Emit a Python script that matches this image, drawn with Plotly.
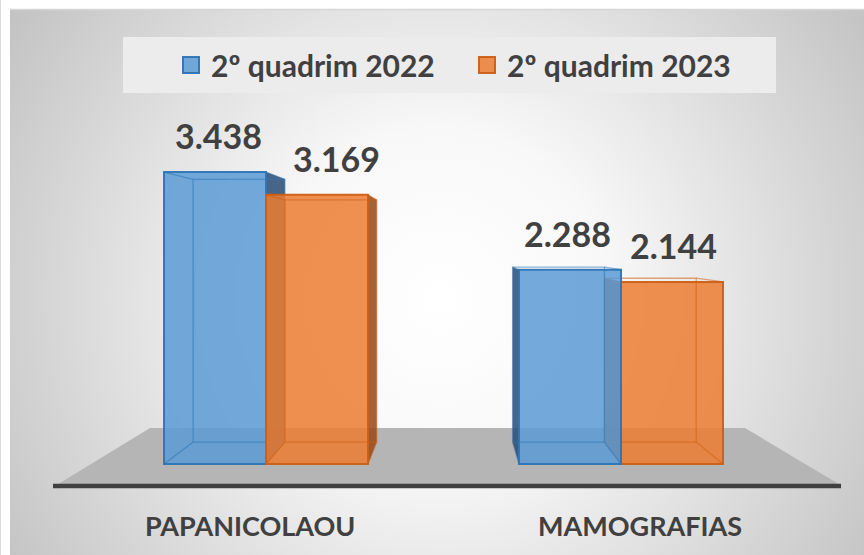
import base64
import plotly.graph_objects as go

# ---------------- data ----------------
categories = ["PAPANICOLAOU", "MAMOGRAFIAS"]
series_names = ["2º quadrim 2022", "2º quadrim 2023"]
values_2022 = [3438, 2288]
values_2023 = [3169, 2144]

# ---------------- style ----------------
W, H = 864, 555
X_RANGE = [-0.7493, 1.6845]
Y_RANGE = [-1071.5, 5463.4]
BAR_W = 0.2873
VP = (0.532, 2578.0)       # vanishing point (data coords) for the 3D look
DEPTH = 0.9                # back face scale toward vanishing point
FRONT = ["rgba(91,155,213,0.85)", "rgba(237,125,49,0.85)"]
SIDE = ["rgba(40,75,115,0.85)", "rgba(150,72,20,0.85)"]
EDGE = ["rgba(46,117,182,0.95)", "rgba(205,95,20,0.95)"]
INNER = ["rgba(46,117,182,0.55)", "rgba(205,95,20,0.55)"]
LABEL_XSHIFT = [[3, -3], [19, 1]]
CAT_XSHIFT = [-16, 19]
TXT = "#404040"
FONT = "Lato"


def px(x):
    return x / W


def py(y):
    return 1 - y / H


def back(x, y):
    return VP[0] + DEPTH * (x - VP[0]), VP[1] + DEPTH * (y - VP[1])


def fmt(v):
    return f"{v:,}".replace(",", ".")


fig = go.Figure()
series_values = [values_2022, values_2023]

z = 1
for gi, cat in enumerate(categories):
    bars = []
    for si in range(2):
        x0 = gi + (si - 1) * BAR_W
        x1 = x0 + BAR_W
        bars.append((si, x0, x1, series_values[si][gi]))
    # draw the bar farther from the vanishing point first
    bars.sort(key=lambda b: -abs((b[1] + b[2]) / 2 - VP[0]))
    for si, x0, x1, v in bars:
        cx = (x0 + x1) / 2
        xs = x1 if cx < VP[0] else x0  # visible side face
        bx0, by0 = back(xs, 0)
        bx1, by1 = back(xs, v)
        fig.add_trace(go.Scatter(
            x=[xs, xs, bx1, bx0, xs], y=[0, v, by1, by0, 0],
            fill="toself", fillcolor=SIDE[si], mode="lines",
            line=dict(width=0), hoverinfo="skip", showlegend=False, zorder=z))
        fig.add_trace(go.Bar(
            x=[cx], y=[v], width=[BAR_W],
            marker=dict(color=FRONT[si], line=dict(color=EDGE[si], width=2)),
            showlegend=False, hoverinfo="skip", zorder=z + 1))
        # back face and connecting edges
        a = back(x0, 0); b = back(x1, 0); c = back(x1, v); d = back(x0, v)
        ex = [a[0], b[0], c[0], d[0], a[0], None,
              x0, a[0], None, x1, b[0], None, x1, c[0], None, x0, d[0]]
        ey = [a[1], b[1], c[1], d[1], a[1], None,
              0, a[1], None, 0, b[1], None, v, c[1], None, v, d[1]]
        fig.add_trace(go.Scatter(
            x=ex, y=ey, mode="lines", line=dict(color=INNER[si], width=1.3),
            hoverinfo="skip", showlegend=False, zorder=z + 2))
        fig.add_annotation(
            x=cx, y=v, xref="x", yref="y", text=f"<b>{fmt(v)}</b>",
            showarrow=False, yanchor="bottom", yshift=14,
            xshift=LABEL_XSHIFT[si][gi],
            font=dict(family=FONT, size=34, color=TXT))
        z += 3

# legend entries
for si, name in enumerate(series_names):
    fig.add_trace(go.Scatter(
        x=[None], y=[None], mode="markers", name=name,
        marker=dict(symbol="square", size=18, color=FRONT[si],
                    line=dict(color=EDGE[si], width=2))))

# category labels
for gi, cat in enumerate(categories):
    fig.add_annotation(
        x=gi, y=py(525), xref="x", yref="paper", text=f"<b>{cat}</b>",
        showarrow=False, yanchor="middle", xshift=CAT_XSHIFT[gi],
        font=dict(family=FONT, size=27, color=TXT))

# background gradient
svg = ('<svg xmlns="http://www.w3.org/2000/svg" width="854" height="546" '
       'viewBox="0 0 854 546" preserveAspectRatio="none"><defs>'
       '<radialGradient id="g" gradientUnits="userSpaceOnUse" cx="430" cy="290" r="560">'
       '<stop offset="0" stop-color="#ffffff"/><stop offset="0.3" stop-color="#f8f8f8"/>'
       '<stop offset="1" stop-color="#bcbcbc"/></radialGradient></defs>'
       '<rect width="854" height="546" fill="url(#g)"/></svg>')
src = "data:image/svg+xml;base64," + base64.b64encode(svg.encode()).decode()
fig.add_layout_image(dict(source=src, xref="paper", yref="paper",
                          x=px(10), y=py(9), sizex=854 / W, sizey=546 / H,
                          xanchor="left", yanchor="top", sizing="stretch",
                          layer="below"))

shapes = [
    # outer frame edges
    dict(type="line", xref="paper", yref="paper", x0=px(0.5), x1=px(0.5), y0=0, y1=1,
         line=dict(color="#d9d9d9", width=1)),
    dict(type="line", xref="paper", yref="paper", x0=px(10), x1=1, y0=py(9.5), y1=py(9.5),
         line=dict(color="#d6d6d6", width=1.5)),
    # legend box
    dict(type="rect", xref="paper", yref="paper", x0=px(123), x1=px(776),
         y0=py(93), y1=py(37), fillcolor="#ececec", line=dict(width=0), layer="below"),
    # floor
    dict(type="path", xref="paper", yref="paper",
         path=f"M{px(55)},{py(486)} L{px(150)},{py(428)} L{px(745)},{py(428)} L{px(842)},{py(486)} Z",
         fillcolor="#b5b5b5", line=dict(width=0), layer="below"),
    dict(type="line", xref="paper", yref="paper", x0=px(53), x1=px(841), y0=py(486), y1=py(486),
         line=dict(color="#404040", width=4.5)),
]

fig.update_layout(
    width=W, height=H, margin=dict(l=0, r=0, t=0, b=0),
    paper_bgcolor="white", plot_bgcolor="rgba(0,0,0,0)",
    barmode="overlay", shapes=shapes,
    xaxis=dict(range=X_RANGE, visible=False, fixedrange=True),
    yaxis=dict(range=Y_RANGE, visible=False, fixedrange=True),
    showlegend=True,
    legend=dict(orientation="h", x=px(467), xanchor="center", y=py(65), yanchor="middle",
                bgcolor="rgba(0,0,0,0)", entrywidth=251, entrywidthmode="pixels",
                font=dict(family=FONT, size=30, color=TXT, weight="bold")),
)

fig.write_html("out.html", config={"displayModeBar": False},
               post_script="document.body.style.margin='0';document.body.style.padding='0';")
